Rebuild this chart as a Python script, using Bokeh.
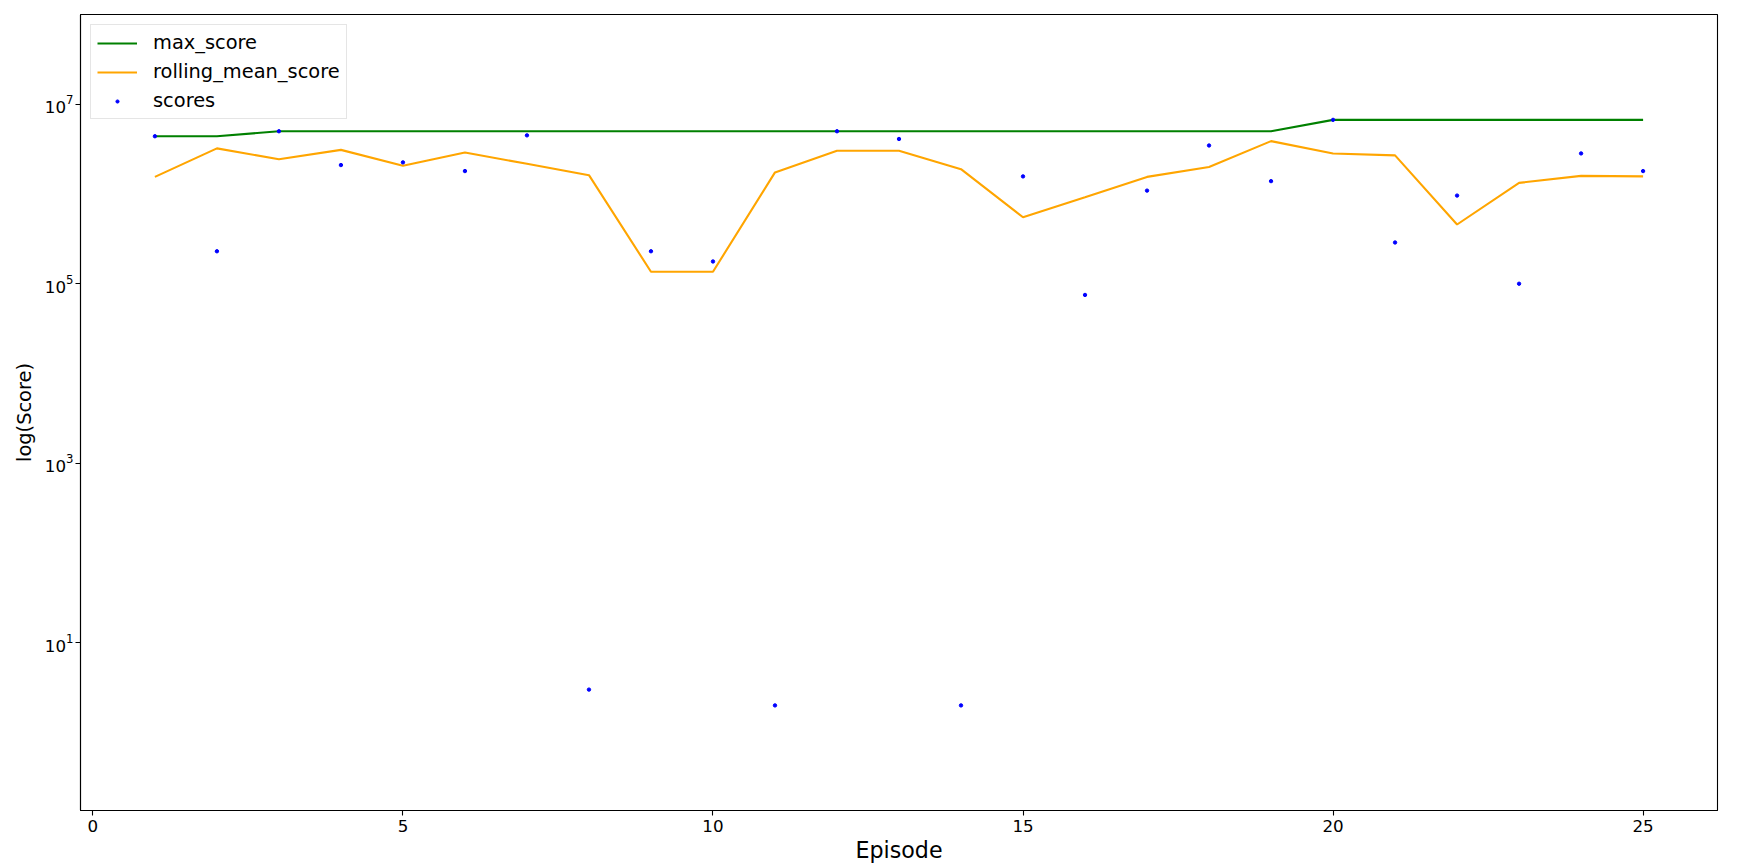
from bokeh.plotting import figure
from bokeh.models import Range1d, FixedTicker
from bokeh.embed import file_html
from bokeh.resources import INLINE

# ---- data ----
episodes = list(range(1, 26))
max_score = [4.4e6, 4.4e6, 5.0e6, 5.0e6, 5.0e6, 5.0e6, 5.0e6, 5.0e6, 5.0e6, 5.0e6,
             5.0e6, 5.0e6, 5.0e6, 5.0e6, 5.0e6, 5.0e6, 5.0e6, 5.0e6, 5.0e6, 6.7e6,
             6.7e6, 6.7e6, 6.7e6, 6.7e6, 6.7e6]
rolling_mean_score = [1.55e6, 3.22e6, 2.44e6, 3.1e6, 2.06e6, 2.9e6, 2.17e6, 1.62e6, 1.36e5, 1.36e5,
                      1.74e6, 3.03e6, 3.03e6, 1.89e6, 5.5e5, 9.2e5, 1.55e6, 2.0e6, 3.88e6, 2.83e6,
                      2.69e6, 4.57e5, 1.33e6, 1.59e6, 1.57e6]
scores = [4.4e6, 2.3e5, 5.0e6, 2.1e6, 2.25e6, 1.8e6, 4.5e6, 3, 2.3e5, 1.77e5,
          2, 5.0e6, 4.1e6, 2, 1.57e6, 7.5e4, 1.09e6, 3.47e6, 1.39e6, 6.7e6,
          2.88e5, 9.6e5, 1.0e5, 2.83e6, 1.8e6]
x_ticks = [0, 5, 10, 15, 20, 25]
y_ticks = [1e1, 1e3, 1e5, 1e7]

FONT = "DejaVu Sans"

p = figure(width=1738, height=868,
           x_range=Range1d(-0.2, 26.2), y_range=Range1d(10 ** -0.87, 1e8),
           y_axis_type="log", output_backend="svg", toolbar_location=None,
           min_border_left=80, min_border_right=21, min_border_top=14, min_border_bottom=58)

p.line(episodes, max_score, color="green", line_width=2.1, legend_label="max_score")
p.line(episodes, rolling_mean_score, color="orange", line_width=2.1, legend_label="rolling_mean_score")
p.scatter(episodes, scores, size=3.4, color="blue", legend_label="scores")

p.xgrid.visible = False
p.ygrid.visible = False
p.background_fill_color = "white"
p.border_fill_color = "white"
p.outline_line_color = "black"
p.outline_line_width = 1.1

p.xaxis.ticker = FixedTicker(ticks=x_ticks, minor_ticks=[])
p.yaxis.ticker = FixedTicker(ticks=y_ticks, minor_ticks=[])

for ax in (p.xaxis[0], p.yaxis[0]):
    ax.axis_line_color = "black"
    ax.axis_line_width = 1.1
    ax.major_tick_line_width = 1.1
    ax.major_tick_out = 5
    ax.major_tick_in = 0
    ax.minor_tick_out = 0
    ax.minor_tick_in = 0
    ax.major_label_text_font = FONT
    ax.major_label_text_font_size = "16.7px"
    ax.major_label_text_color = "black"
    ax.axis_label_text_font = FONT
    ax.axis_label_text_font_style = "normal"
    ax.axis_label_text_color = "black"

p.xaxis.major_label_standoff = 4
p.yaxis.major_label_standoff = 2
p.xaxis.axis_label = "Episode"
p.xaxis.axis_label_text_font_size = "22.2px"
p.xaxis.axis_label_standoff = 2
p.yaxis.axis_label = "log(Score)"
p.yaxis.axis_label_text_font_size = "19.4px"
p.yaxis.axis_label_standoff = 6

lg = p.legend[0]
lg.location = "top_left"
lg.margin = 10
lg.padding = 6
lg.spacing = 6
lg.glyph_width = 40
lg.glyph_height = 8
lg.label_height = 20
lg.label_standoff = 16
lg.label_text_font = FONT
lg.label_text_font_size = "19.4px"
lg.label_text_color = "black"
lg.background_fill_alpha = 0.8
lg.border_line_color = "#cccccc"
lg.border_line_width = 1

open("out.html", "w").write(file_html(p, INLINE))
